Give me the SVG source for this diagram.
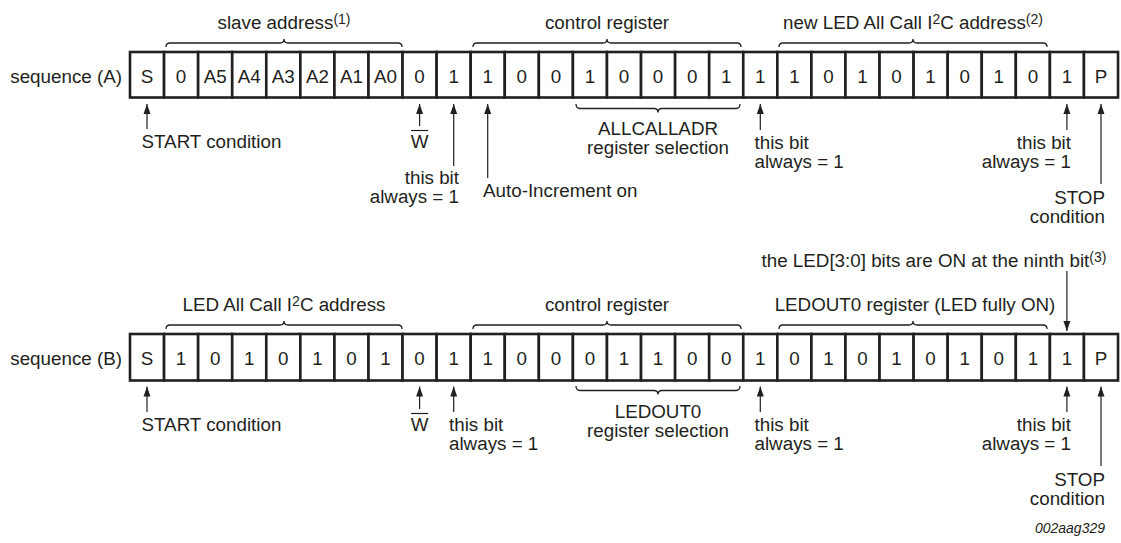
<svg xmlns="http://www.w3.org/2000/svg" width="1121" height="543" viewBox="0 0 1121 543">
<style>
text{font-family:"Liberation Sans",Arial,sans-serif;font-size:18.8px;fill:#231f20}
.c{text-anchor:middle}
.e{text-anchor:end}
.cell rect{fill:#fff;stroke:#231f20;stroke-width:2.6}
.br{fill:none;stroke:#231f20;stroke-width:1.3}
.ar{stroke:#231f20;stroke-width:1.2;fill:none}
.ol{stroke:#231f20;stroke-width:1.2}
.sup{font-size:14px}
.id{font-style:italic;font-size:14px}
</style>
<defs>
<marker id="tip" markerUnits="userSpaceOnUse" markerWidth="10" markerHeight="8" viewBox="0 0 10 8" refX="10" refY="4" orient="auto">
<path d="M0,0.5 L10,4 L0,7.5 Z" fill="#231f20"/>
</marker>
</defs>

<!-- sequence labels -->
<g id="label-A"><text class="e" x="122" y="83">sequence (A)</text></g>
<g id="label-B"><text class="e" x="122" y="365">sequence (B)</text></g>

<!-- sequence A cells -->
<g id="seqA">
<g id="A0" class="cell"><rect x="130" y="52" width="34.07" height="45.5"/><text class="c" x="147" y="83">S</text></g>
<g id="A1" class="cell"><rect x="164.07" y="52" width="34.07" height="45.5"/><text class="c" x="181.1" y="83">0</text></g>
<g id="A2" class="cell"><rect x="198.14" y="52" width="34.07" height="45.5"/><text class="c" x="215.2" y="83">A5</text></g>
<g id="A3" class="cell"><rect x="232.21" y="52" width="34.07" height="45.5"/><text class="c" x="249.2" y="83">A4</text></g>
<g id="A4" class="cell"><rect x="266.28" y="52" width="34.07" height="45.5"/><text class="c" x="283.3" y="83">A3</text></g>
<g id="A5" class="cell"><rect x="300.35" y="52" width="34.07" height="45.5"/><text class="c" x="317.4" y="83">A2</text></g>
<g id="A6" class="cell"><rect x="334.42" y="52" width="34.07" height="45.5"/><text class="c" x="351.5" y="83">A1</text></g>
<g id="A7" class="cell"><rect x="368.49" y="52" width="34.07" height="45.5"/><text class="c" x="385.5" y="83">A0</text></g>
<g id="A8" class="cell"><rect x="402.56" y="52" width="34.07" height="45.5"/><text class="c" x="419.6" y="83">0</text></g>
<g id="A9" class="cell"><rect x="436.63" y="52" width="34.07" height="45.5"/><text class="c" x="453.7" y="83">1</text></g>
<g id="A10" class="cell"><rect x="470.7" y="52" width="34.07" height="45.5"/><text class="c" x="487.7" y="83">1</text></g>
<g id="A11" class="cell"><rect x="504.77" y="52" width="34.07" height="45.5"/><text class="c" x="521.8" y="83">0</text></g>
<g id="A12" class="cell"><rect x="538.84" y="52" width="34.07" height="45.5"/><text class="c" x="555.9" y="83">0</text></g>
<g id="A13" class="cell"><rect x="572.91" y="52" width="34.07" height="45.5"/><text class="c" x="590" y="83">1</text></g>
<g id="A14" class="cell"><rect x="606.98" y="52" width="34.07" height="45.5"/><text class="c" x="624" y="83">0</text></g>
<g id="A15" class="cell"><rect x="641.05" y="52" width="34.07" height="45.5"/><text class="c" x="658.1" y="83">0</text></g>
<g id="A16" class="cell"><rect x="675.12" y="52" width="34.07" height="45.5"/><text class="c" x="692.2" y="83">0</text></g>
<g id="A17" class="cell"><rect x="709.19" y="52" width="34.07" height="45.5"/><text class="c" x="726.2" y="83">1</text></g>
<g id="A18" class="cell"><rect x="743.26" y="52" width="34.07" height="45.5"/><text class="c" x="760.3" y="83">1</text></g>
<g id="A19" class="cell"><rect x="777.33" y="52" width="34.07" height="45.5"/><text class="c" x="794.4" y="83">1</text></g>
<g id="A20" class="cell"><rect x="811.4" y="52" width="34.07" height="45.5"/><text class="c" x="828.4" y="83">0</text></g>
<g id="A21" class="cell"><rect x="845.47" y="52" width="34.07" height="45.5"/><text class="c" x="862.5" y="83">1</text></g>
<g id="A22" class="cell"><rect x="879.54" y="52" width="34.07" height="45.5"/><text class="c" x="896.6" y="83">0</text></g>
<g id="A23" class="cell"><rect x="913.61" y="52" width="34.07" height="45.5"/><text class="c" x="930.6" y="83">1</text></g>
<g id="A24" class="cell"><rect x="947.68" y="52" width="34.07" height="45.5"/><text class="c" x="964.7" y="83">0</text></g>
<g id="A25" class="cell"><rect x="981.75" y="52" width="34.07" height="45.5"/><text class="c" x="998.8" y="83">1</text></g>
<g id="A26" class="cell"><rect x="1015.82" y="52" width="34.07" height="45.5"/><text class="c" x="1032.9" y="83">0</text></g>
<g id="A27" class="cell"><rect x="1049.89" y="52" width="34.07" height="45.5"/><text class="c" x="1066.9" y="83">1</text></g>
<g id="A28" class="cell"><rect x="1083.96" y="52" width="34.07" height="45.5"/><text class="c" x="1101" y="83">P</text></g>
</g>

<!-- sequence B cells -->
<g id="seqB">
<g id="B0" class="cell"><rect x="130" y="334" width="34.07" height="46.5"/><text class="c" x="147" y="365">S</text></g>
<g id="B1" class="cell"><rect x="164.07" y="334" width="34.07" height="46.5"/><text class="c" x="181.1" y="365">1</text></g>
<g id="B2" class="cell"><rect x="198.14" y="334" width="34.07" height="46.5"/><text class="c" x="215.2" y="365">0</text></g>
<g id="B3" class="cell"><rect x="232.21" y="334" width="34.07" height="46.5"/><text class="c" x="249.2" y="365">1</text></g>
<g id="B4" class="cell"><rect x="266.28" y="334" width="34.07" height="46.5"/><text class="c" x="283.3" y="365">0</text></g>
<g id="B5" class="cell"><rect x="300.35" y="334" width="34.07" height="46.5"/><text class="c" x="317.4" y="365">1</text></g>
<g id="B6" class="cell"><rect x="334.42" y="334" width="34.07" height="46.5"/><text class="c" x="351.5" y="365">0</text></g>
<g id="B7" class="cell"><rect x="368.49" y="334" width="34.07" height="46.5"/><text class="c" x="385.5" y="365">1</text></g>
<g id="B8" class="cell"><rect x="402.56" y="334" width="34.07" height="46.5"/><text class="c" x="419.6" y="365">0</text></g>
<g id="B9" class="cell"><rect x="436.63" y="334" width="34.07" height="46.5"/><text class="c" x="453.7" y="365">1</text></g>
<g id="B10" class="cell"><rect x="470.7" y="334" width="34.07" height="46.5"/><text class="c" x="487.7" y="365">1</text></g>
<g id="B11" class="cell"><rect x="504.77" y="334" width="34.07" height="46.5"/><text class="c" x="521.8" y="365">0</text></g>
<g id="B12" class="cell"><rect x="538.84" y="334" width="34.07" height="46.5"/><text class="c" x="555.9" y="365">0</text></g>
<g id="B13" class="cell"><rect x="572.91" y="334" width="34.07" height="46.5"/><text class="c" x="590" y="365">0</text></g>
<g id="B14" class="cell"><rect x="606.98" y="334" width="34.07" height="46.5"/><text class="c" x="624" y="365">1</text></g>
<g id="B15" class="cell"><rect x="641.05" y="334" width="34.07" height="46.5"/><text class="c" x="658.1" y="365">1</text></g>
<g id="B16" class="cell"><rect x="675.12" y="334" width="34.07" height="46.5"/><text class="c" x="692.2" y="365">0</text></g>
<g id="B17" class="cell"><rect x="709.19" y="334" width="34.07" height="46.5"/><text class="c" x="726.2" y="365">0</text></g>
<g id="B18" class="cell"><rect x="743.26" y="334" width="34.07" height="46.5"/><text class="c" x="760.3" y="365">1</text></g>
<g id="B19" class="cell"><rect x="777.33" y="334" width="34.07" height="46.5"/><text class="c" x="794.4" y="365">0</text></g>
<g id="B20" class="cell"><rect x="811.4" y="334" width="34.07" height="46.5"/><text class="c" x="828.4" y="365">1</text></g>
<g id="B21" class="cell"><rect x="845.47" y="334" width="34.07" height="46.5"/><text class="c" x="862.5" y="365">0</text></g>
<g id="B22" class="cell"><rect x="879.54" y="334" width="34.07" height="46.5"/><text class="c" x="896.6" y="365">1</text></g>
<g id="B23" class="cell"><rect x="913.61" y="334" width="34.07" height="46.5"/><text class="c" x="930.6" y="365">0</text></g>
<g id="B24" class="cell"><rect x="947.68" y="334" width="34.07" height="46.5"/><text class="c" x="964.7" y="365">1</text></g>
<g id="B25" class="cell"><rect x="981.75" y="334" width="34.07" height="46.5"/><text class="c" x="998.8" y="365">0</text></g>
<g id="B26" class="cell"><rect x="1015.82" y="334" width="34.07" height="46.5"/><text class="c" x="1032.9" y="365">1</text></g>
<g id="B27" class="cell"><rect x="1049.89" y="334" width="34.07" height="46.5"/><text class="c" x="1066.9" y="365">1</text></g>
<g id="B28" class="cell"><rect x="1083.96" y="334" width="34.07" height="46.5"/><text class="c" x="1101" y="365">P</text></g>
</g>

<!-- braces -->
<g id="braces">
<path class="br" d="M166,47 Q166,43 170,43 L280,43 Q284,43 284,39 Q284,43 288,43 L398,43 Q402,43 402,47"/>
<path class="br" d="M473,47 Q473,43 477,43 L603,43 Q607,43 607,39 Q607,43 611,43 L737,43 Q741,43 741,47"/>
<path class="br" d="M779,47 Q779,43 783,43 L909,43 Q913,43 913,39 Q913,43 917,43 L1043,43 Q1047,43 1047,47"/>
<path class="br" d="M576,104 Q576,108.5 580,108.5 L654,108.5 Q658,108.5 658,112.5 Q658,108.5 662,108.5 L736,108.5 Q740,108.5 740,104"/>
<path class="br" d="M166,329 Q166,325 170,325 L280,325 Q284,325 284,321 Q284,325 288,325 L398,325 Q402,325 402,329"/>
<path class="br" d="M473,329 Q473,325 477,325 L603,325 Q607,325 607,321 Q607,325 611,325 L737,325 Q741,325 741,329"/>
<path class="br" d="M779,329 Q779,325 783,325 L909,325 Q913,325 913,321 Q913,325 917,325 L1043,325 Q1047,325 1047,329"/>
<path class="br" d="M576,386 Q576,390.5 580,390.5 L654,390.5 Q658,390.5 658,394.5 Q658,390.5 662,390.5 L736,390.5 Q740,390.5 740,386"/>
</g>

<!-- connectors -->
<g id="connectors">
<line class="ar" x1="147" y1="129" x2="147" y2="104" marker-end="url(#tip)"/>
<line class="ar" x1="419.6" y1="126" x2="419.6" y2="104" marker-end="url(#tip)"/>
<line class="ar" x1="453.7" y1="166" x2="453.7" y2="104" marker-end="url(#tip)"/>
<line class="ar" x1="487.7" y1="178" x2="487.7" y2="104" marker-end="url(#tip)"/>
<line class="ar" x1="760.3" y1="130" x2="760.3" y2="104" marker-end="url(#tip)"/>
<line class="ar" x1="1066.9" y1="130" x2="1066.9" y2="104" marker-end="url(#tip)"/>
<line class="ar" x1="1101" y1="184" x2="1101" y2="104" marker-end="url(#tip)"/>

<line class="ar" x1="147" y1="412" x2="147" y2="386.5" marker-end="url(#tip)"/>
<line class="ar" x1="419.6" y1="409" x2="419.6" y2="386.5" marker-end="url(#tip)"/>
<line class="ar" x1="453.7" y1="412" x2="453.7" y2="386.5" marker-end="url(#tip)"/>
<line class="ar" x1="760.3" y1="412" x2="760.3" y2="386.5" marker-end="url(#tip)"/>
<line class="ar" x1="1066.9" y1="412" x2="1066.9" y2="386.5" marker-end="url(#tip)"/>
<line class="ar" x1="1101" y1="466" x2="1101" y2="386.5" marker-end="url(#tip)"/>
<line class="ar" x1="1066.9" y1="271" x2="1066.9" y2="331" marker-end="url(#tip)"/>
</g>

<!-- labels sequence A -->
<g id="labelsA">
<text class="c" x="284" y="28.5">slave address<tspan class="sup" dy="-5">(1)</tspan></text>
<text class="c" x="607" y="28.5">control register</text>
<text class="c" x="913" y="28.5">new LED All Call I<tspan class="sup" dy="-5">2</tspan><tspan dy="5">C address</tspan><tspan class="sup" dy="-5">(2)</tspan></text>
<text x="141.5" y="148">START condition</text>
<text class="c" x="419.6" y="148">W</text>
<line class="ol" x1="411" y1="130.5" x2="428.2" y2="130.5"/>
<text class="e" x="459" y="184">this bit</text>
<text class="e" x="459" y="203">always = 1</text>
<text x="483" y="197">Auto-Increment on</text>
<text class="c" x="658" y="134.5">ALLCALLADR</text>
<text class="c" x="658" y="153.5">register selection</text>
<text x="754.5" y="149">this bit</text>
<text x="754.5" y="168">always = 1</text>
<text class="e" x="1071" y="149">this bit</text>
<text class="e" x="1071" y="168">always = 1</text>
<text class="e" x="1105" y="203.5">STOP</text>
<text class="e" x="1105" y="222.5">condition</text>
</g>

<!-- labels sequence B -->
<g id="labelsB">
<text class="c" x="934" y="267">the LED[3:0] bits are ON at the ninth bit<tspan class="sup" dy="-5">(3)</tspan></text>
<text class="c" x="284" y="310.5">LED All Call I<tspan class="sup" dy="-5">2</tspan><tspan dy="5">C address</tspan></text>
<text class="c" x="607" y="310.5">control register</text>
<text class="c" x="915" y="310.5">LEDOUT0 register (LED fully ON)</text>
<text x="141.5" y="431">START condition</text>
<text class="c" x="419.6" y="431">W</text>
<line class="ol" x1="411" y1="413.5" x2="428.2" y2="413.5"/>
<text x="449" y="431">this bit</text>
<text x="449" y="450">always = 1</text>
<text class="c" x="658" y="418">LEDOUT0</text>
<text class="c" x="658" y="437">register selection</text>
<text x="754.5" y="431">this bit</text>
<text x="754.5" y="450">always = 1</text>
<text class="e" x="1071" y="431">this bit</text>
<text class="e" x="1071" y="450">always = 1</text>
<text class="e" x="1105" y="485.5">STOP</text>
<text class="e" x="1105" y="504.5">condition</text>
<text class="e id" x="1105" y="533">002aag329</text>
</g>
</svg>
